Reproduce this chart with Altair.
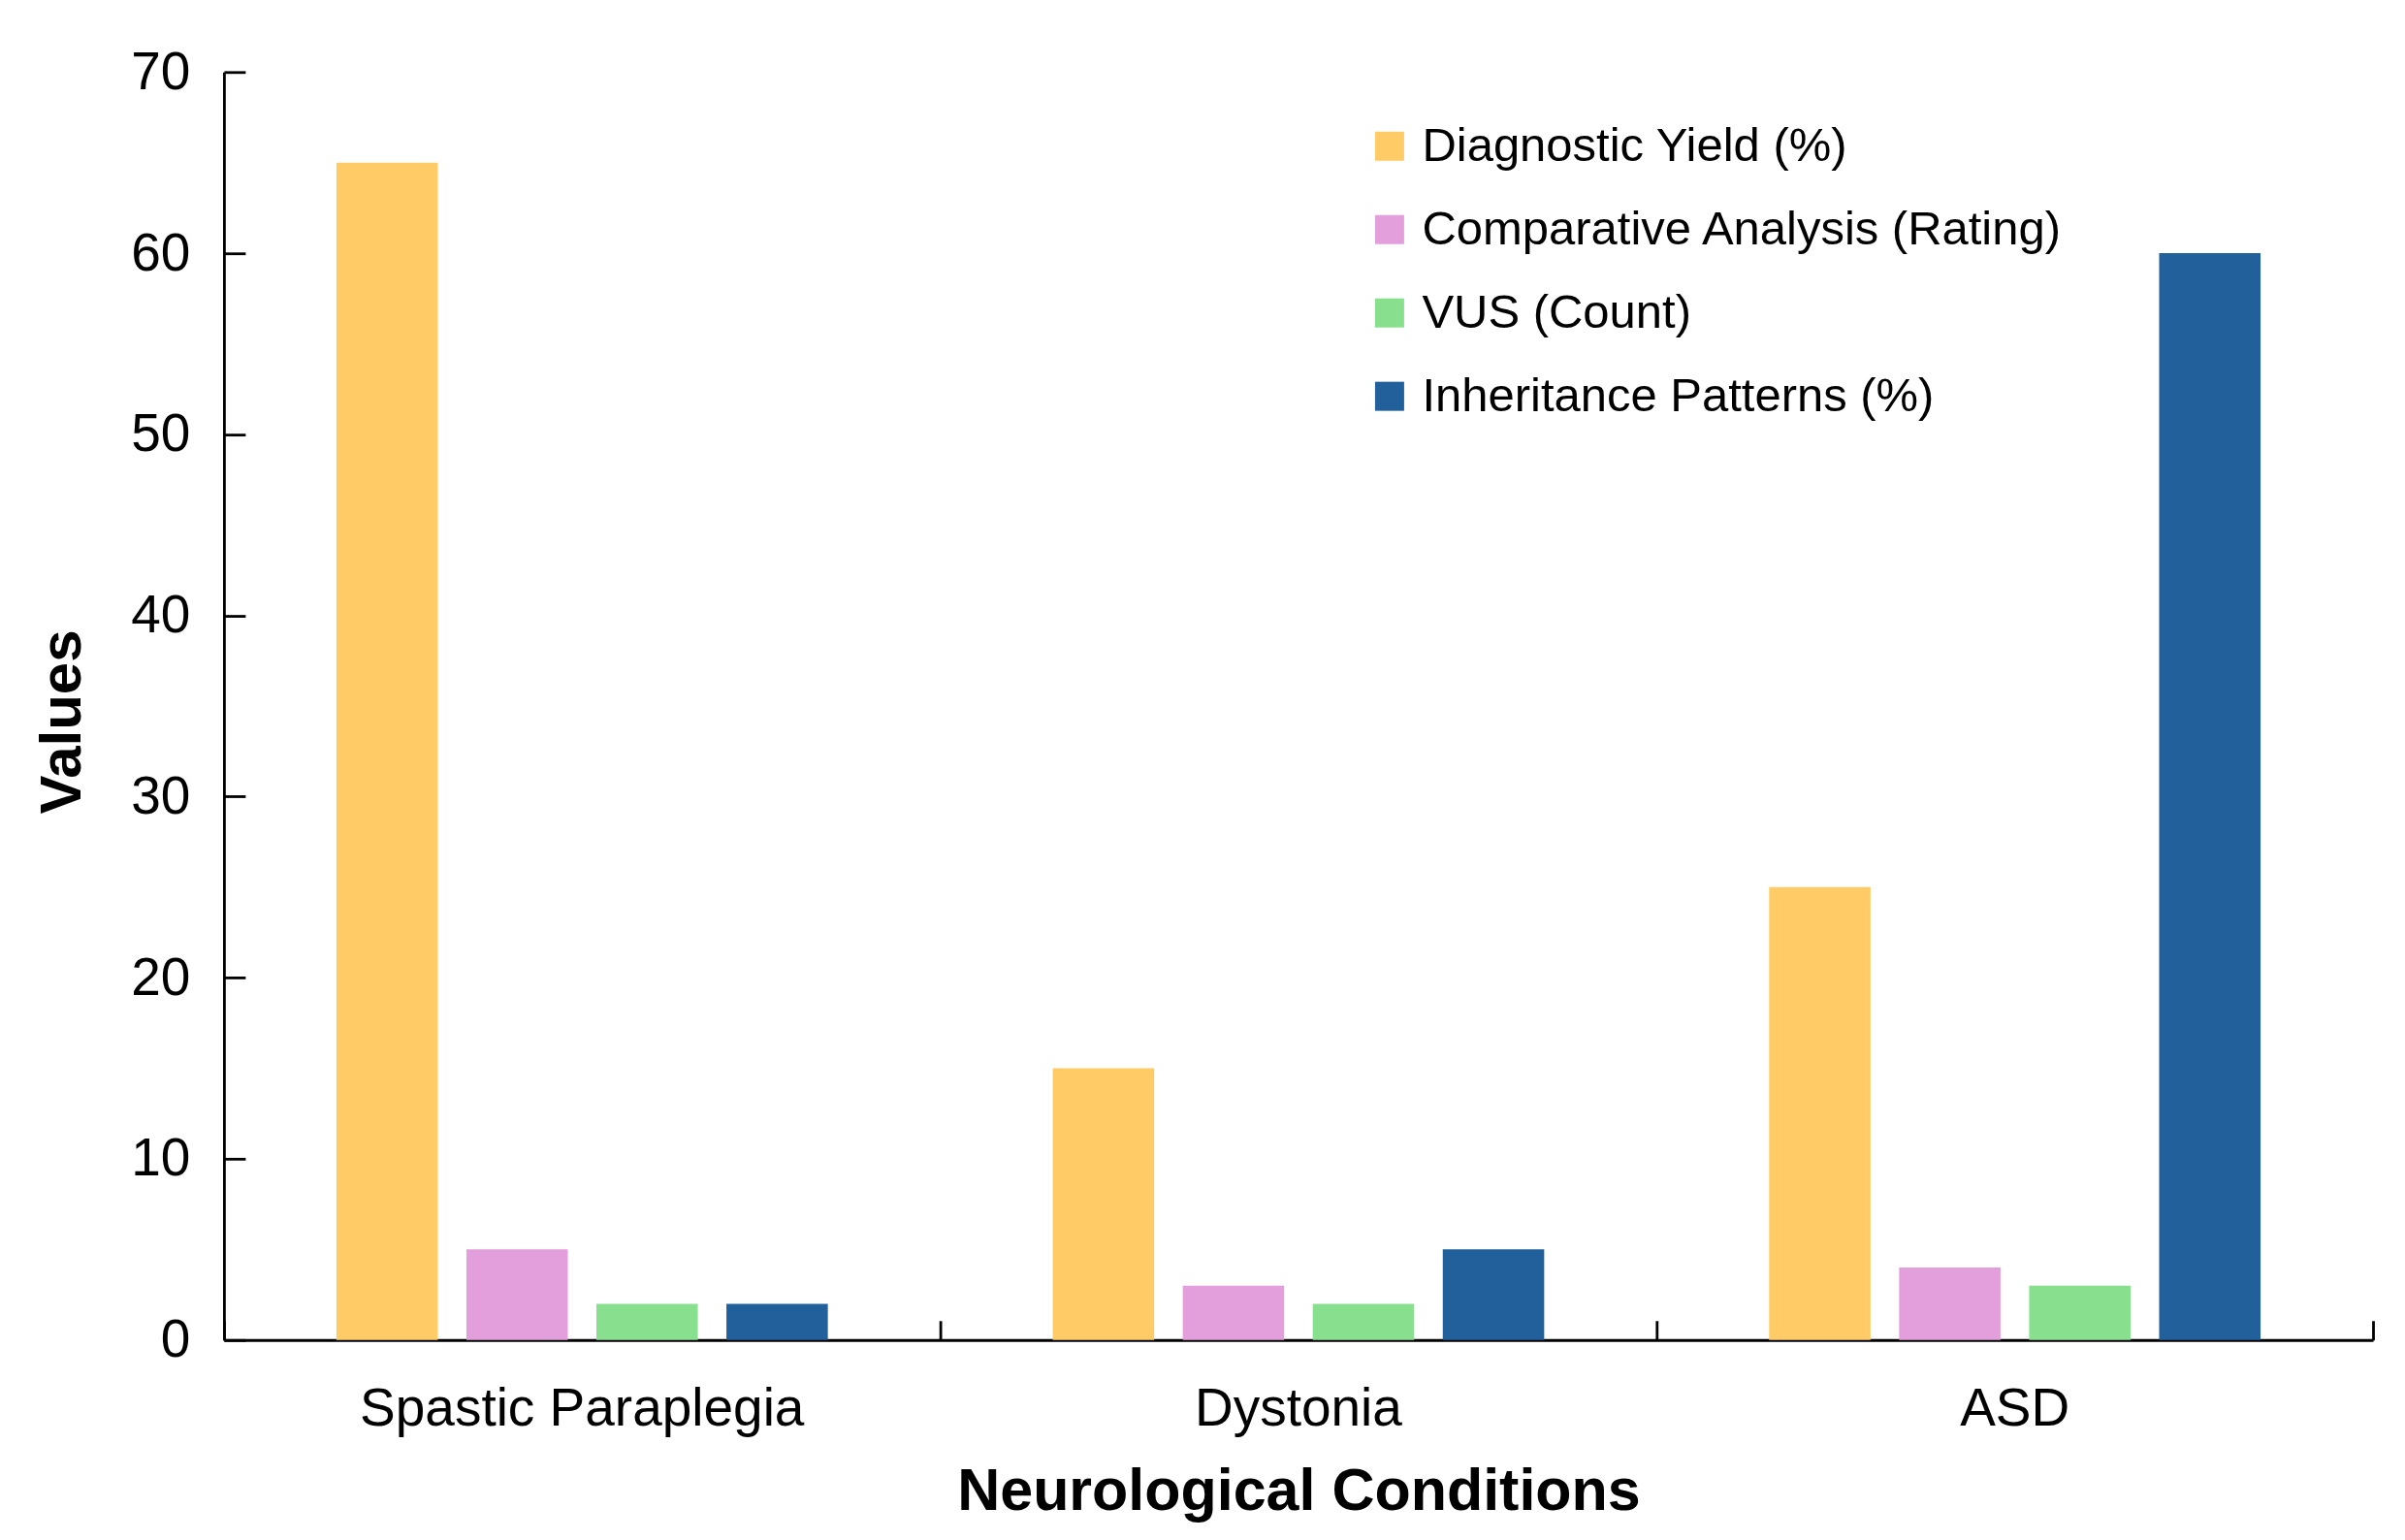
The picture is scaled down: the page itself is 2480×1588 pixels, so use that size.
import altair as alt
import pandas as pd

conditions = ["Spastic Paraplegia", "Dystonia", "ASD"]
series = ["Diagnostic Yield (%)", "Comparative Analysis (Rating)", "VUS (Count)", "Inheritance Patterns (%)"]
diagnostic_yield = [65, 15, 25]
comparative_analysis = [5, 3, 4]
vus_count = [2, 2, 3]
inheritance_patterns = [2, 5, 60]
colors = ["#FECB66", "#E29FDB", "#88E08F", "#21609A"]
y_ticks = [0, 10, 20, 30, 40, 50, 60, 70]

rows = []
for i, c in enumerate(conditions):
    for s, vals in zip(series, [diagnostic_yield, comparative_analysis, vus_count, inheritance_patterns]):
        rows.append({"Condition": c, "Series": s, "Value": vals[i]})
df = pd.DataFrame(rows)

W, H = 2217, 1308
FONT = "Liberation Sans, Arial, Helvetica, sans-serif"

x_scale = alt.Scale(domain=conditions, paddingInner=0, paddingOuter=0)
y_scale = alt.Scale(domain=[0, 70], nice=False, zero=True)

bars = alt.Chart(df).mark_bar().encode(
    x=alt.X("Condition:N", sort=conditions, scale=x_scale,
            axis=alt.Axis(title="Neurological Conditions", orient="bottom", labelAngle=0, ticks=False,
                          domain=True, domainColor="black", domainWidth=2.8, labelLimit=0,
                          labelFontSize=55, labelColor="black", labelPadding=45, labelFont=FONT,
                          titleFontSize=61, titleFontWeight="bold", titleColor="black", titleFont=FONT,
                          titlePadding=28, grid=False)),
    xOffset=alt.XOffset("Series:N", sort=series,
                        scale=alt.Scale(domain=series, paddingInner=0.22, paddingOuter=0.865)),
    y=alt.Y("Value:Q", scale=y_scale,
            axis=alt.Axis(title="Values", orient="left", values=y_ticks, ticks=False, grid=False,
                          domain=True, domainColor="black", domainWidth=2.8,
                          labelFontSize=55, labelColor="black", labelPadding=35, labelFont=FONT,
                          titleFontSize=60, titleFontWeight="bold", titleColor="black", titleFont=FONT,
                          titlePadding=39, titleY=H / 2 + 16)),
    color=alt.Color("Series:N", sort=series, scale=alt.Scale(domain=series, range=colors),
                    legend=alt.Legend(title=None, orient="none", legendX=1178, legendY=52,
                                      symbolType="square", symbolSize=900, symbolStrokeWidth=0,
                                      labelFontSize=49, labelFont=FONT, labelColor="black",
                                      labelLimit=0, rowPadding=36, labelOffset=9)),
)

ticks_layer = alt.Chart(df).mark_point(opacity=0).encode(
    x=alt.X("Condition:N", sort=conditions, scale=x_scale,
            axis=alt.Axis(title=None, orient="top", offset=-H, labels=False, domain=False,
                          ticks=True, tickBand="extent", tickSize=20, tickWidth=2.8,
                          tickColor="black", grid=False)),
    y=alt.Y("Value:Q", scale=y_scale,
            axis=alt.Axis(title=None, orient="right", offset=-W, labels=False, domain=False,
                          values=y_ticks, ticks=True, tickSize=22, tickWidth=2.8,
                          tickColor="black", grid=False)),
)

chart = alt.layer(bars, ticks_layer).resolve_axis(
    x="independent", y="independent"
).properties(
    width=W, height=H,
    autosize=alt.AutoSizeParams(type="none"),
    padding={"left": 223, "top": 66, "right": 25, "bottom": 190},
    background="white",
).configure_view(stroke=None)

chart.save("out.html", embed_options={"renderer": "svg", "actions": False})
